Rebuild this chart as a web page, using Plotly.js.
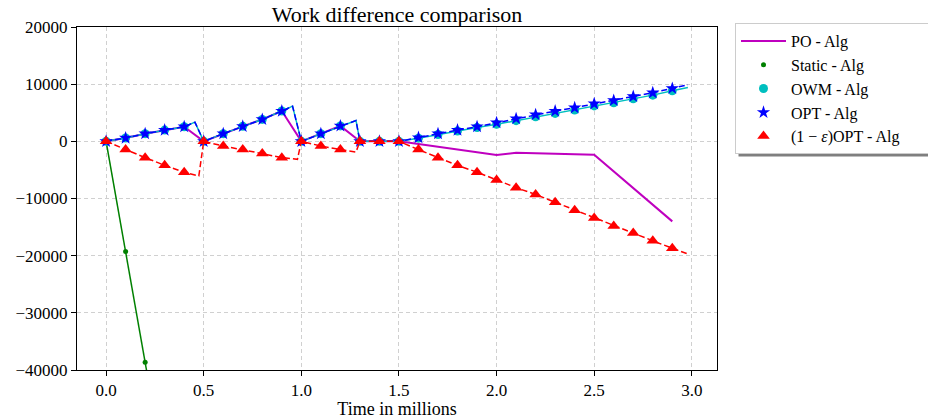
<!DOCTYPE html>
<html>
<head>
<meta charset="utf-8">
<script src="https://cdn.plot.ly/plotly-3.0.1.min.js"></script>
<style>html,body{margin:0;padding:0;background:#fff;}#chart{width:928px;height:419px;}</style>
</head>
<body>
<div id="chart"></div>
<script>
// Marker sample times (millions)
const tMarks = [0.0,0.1,0.2,0.3,0.4,0.5,0.6,0.7,0.8,0.9,1.0,1.1,1.2,1.3,1.4,1.5,1.6,1.7,1.8,1.9,2.0,2.1,2.2,2.3,2.4,2.5,2.6,2.7,2.8,2.9];

// OPT - Alg (markers)
const optMarks = [0,580,1340,1970,2560,0,1340,2620,3840,5300,0,1340,2700,0,0,0,650,1340,1970,2560,3260,3960,4660,5290,5880,6580,7150,7850,8500,9250];
// OWM - Alg (markers)
const owmMarks = [0,580,1340,1970,2560,0,1340,2620,3840,5300,0,1340,2700,0,0,0,550,1200,1800,2400,2980,3620,4280,4880,5480,6200,6750,7430,8080,8850];
// (1-eps)OPT - Alg (markers)
const epsMarks = [0,-1450,-2850,-4200,-5400,0,-820,-1450,-2150,-2850,0,-820,-1450,0,0,0,-1450,-2850,-4200,-5400,-6750,-8100,-9300,-10650,-12050,-13400,-14800,-16050,-17400,-18700];

// Line series (finer sampling incl. the saw-tooth peaks)
const tOptLine = [0.0,0.1,0.2,0.3,0.4,0.455,0.5,0.6,0.7,0.8,0.9,0.955,1.0,1.1,1.2,1.28,1.3,1.4,1.5,1.6,1.7,1.8,1.9,2.0,2.1,2.2,2.3,2.4,2.5,2.6,2.7,2.8,2.9,2.98];
const optLine = [0,580,1340,1970,2560,3350,0,1340,2620,3840,5300,6150,0,1340,2700,3650,0,0,0,650,1340,1970,2560,3260,3960,4660,5290,5880,6580,7150,7850,8500,9250,9900];
const owmLine = [0,580,1340,1970,2560,3350,0,1340,2620,3840,5300,6150,0,1340,2700,3650,0,0,0,550,1200,1800,2400,2980,3620,4280,4880,5480,6200,6750,7430,8080,8850,9400];

const tEpsLine = [0.0,0.1,0.2,0.3,0.4,0.475,0.5,0.6,0.7,0.8,0.9,0.98,1.0,1.1,1.2,1.28,1.3,1.4,1.5,1.6,1.7,1.8,1.9,2.0,2.1,2.2,2.3,2.4,2.5,2.6,2.7,2.8,2.9,2.98];
const epsLine = [0,-1450,-2850,-4200,-5400,-6050,0,-820,-1450,-2150,-2850,-3150,0,-820,-1450,-1870,0,0,0,-1450,-2850,-4200,-5400,-6750,-8100,-9300,-10650,-12050,-13400,-14800,-16050,-17400,-18700,-19700];

// PO - Alg
const tPO = [0.0,0.1,0.2,0.3,0.4,0.5,0.6,0.7,0.8,0.9,1.0,1.1,1.2,1.3,1.4,1.5,2.0,2.1,2.5,2.9];
const poVals = [0,580,1340,1970,2560,0,1340,2620,3840,5300,0,1340,2700,0,0,0,-2400,-2000,-2350,-14000];

// Static - Alg
const tStatic = [0.0,0.1,0.2,0.3];
const staticVals = [0,-19250,-38650,-58000];

const names = ["PO - Alg","Static - Alg","OWM - Alg","OPT - Alg","(1 \u2212 <i>\u03b5</i>)OPT - Alg\u00a0\u00a0\u00a0\u00a0\u00a0\u00a0"];
const xTickVals = [0,0.5,1,1.5,2,2.5,3];
const xTickText = ["0.0","0.5","1.0","1.5","2.0","2.5","3.0"];
const yTickVals = [-40000,-30000,-20000,-10000,0,10000,20000];
const yTickText = ["\u221240000","\u221230000","\u221220000","\u221210000","0","10000","20000"];

const FONT = "Liberation Serif, Times New Roman, serif";
const cM = "#bf00bf", cG = "#008000", cC = "#00bfbf", cB = "#0000ff", cR = "#ff0000";

const traces = [
  {x:tPO, y:poVals, mode:"lines", name:names[0], line:{color:cM, width:2}},
  {x:tStatic, y:staticVals, mode:"lines", showlegend:false, line:{color:cG, width:1.5}},
  {x:tStatic, y:staticVals, mode:"markers", name:names[1], marker:{color:cG, size:5, symbol:"circle"}},
  {x:tOptLine, y:owmLine, mode:"lines", showlegend:false, line:{color:cC, width:1.5}},
  {x:tMarks, y:owmMarks, mode:"markers", name:names[2], marker:{color:cC, size:9, symbol:"circle"}},
  {x:tOptLine, y:optLine, mode:"lines", showlegend:false, line:{color:cB, width:1.5, dash:"6px,3px"}},
  {x:tMarks, y:optMarks, mode:"markers", name:names[3], marker:{color:cB, size:10, symbol:"star"}},
  {x:tEpsLine, y:epsLine, mode:"lines", showlegend:false, line:{color:cR, width:1.5, dash:"6px,3px"}},
  {x:tMarks, y:epsMarks, mode:"markers", name:names[4], marker:{color:cR, size:11, symbol:"triangle-up"}}
];

const L = 77, R = 717, T = 27, B = 370;
const layout = {
  width:928, height:419,
  margin:{l:L, r:928-R, t:T, b:419-B, pad:0, autoexpand:false},
  paper_bgcolor:"#fff", plot_bgcolor:"#fff",
  font:{family:FONT, size:17, color:"#000"},
  title:{text:"Work difference comparison", font:{family:FONT, size:22, color:"#000"}, x:(397-L)/(R-L), xref:"paper", xanchor:"center", y:1-14/419, yref:"container", yanchor:"middle"},
  xaxis:{range:[-0.149,3.129], tickvals:xTickVals, ticktext:xTickText, ticks:"outside", ticklen:5, tickcolor:"#000",
         showline:true, linecolor:"#000", linewidth:1, mirror:true, zeroline:false, automargin:false,
         showgrid:true, gridcolor:"#d0d0d0", griddash:"4px,3px", gridwidth:1,
         title:{text:"Time in millions", font:{family:FONT, size:18}, standoff:4}, tickfont:{family:FONT, size:17}},
  yaxis:{range:[-40000,20000], tickvals:yTickVals, ticktext:yTickText, ticks:"outside", ticklen:5, tickcolor:"#000",
         showline:true, linecolor:"#000", linewidth:1, mirror:true, zeroline:false, automargin:false,
         showgrid:true, gridcolor:"#d0d0d0", griddash:"4px,3px", gridwidth:1, tickfont:{family:FONT, size:17}},
  legend:{x:(735-L)/(R-L), y:(B-23)/(B-T), xanchor:"left", yanchor:"top", bgcolor:"#fff", bordercolor:"#cccccc", borderwidth:1,
          font:{family:FONT, size:16}, itemwidth:45, tracegroupgap:0},
  showlegend:true
};

Plotly.newPlot("chart", traces, layout, {displayModeBar:false, staticPlot:true}).then(function(gd){
  // legend drop shadow, placed from the rendered legend box
  const bg = gd.querySelector(".legend .bg");
  if (!bg) return;
  const box = bg.getBoundingClientRect();
  const root = gd.getBoundingClientRect();
  const left = box.left - root.left + 3, right = box.right - root.left + 3;
  const top = box.top - root.top + 3, bottom = box.bottom - root.top + 3;
  const px2x = function(p){ return (p - L) / (R - L); };
  const px2y = function(p){ return (B - p) / (B - T); };
  return Plotly.relayout(gd, {shapes:[{type:"rect", xref:"paper", yref:"paper",
    x0:px2x(left), x1:px2x(right), y0:px2y(bottom), y1:px2y(top),
    fillcolor:"#7f7f7f", line:{width:0}, layer:"above"}]});
});
</script>
</body>
</html>
